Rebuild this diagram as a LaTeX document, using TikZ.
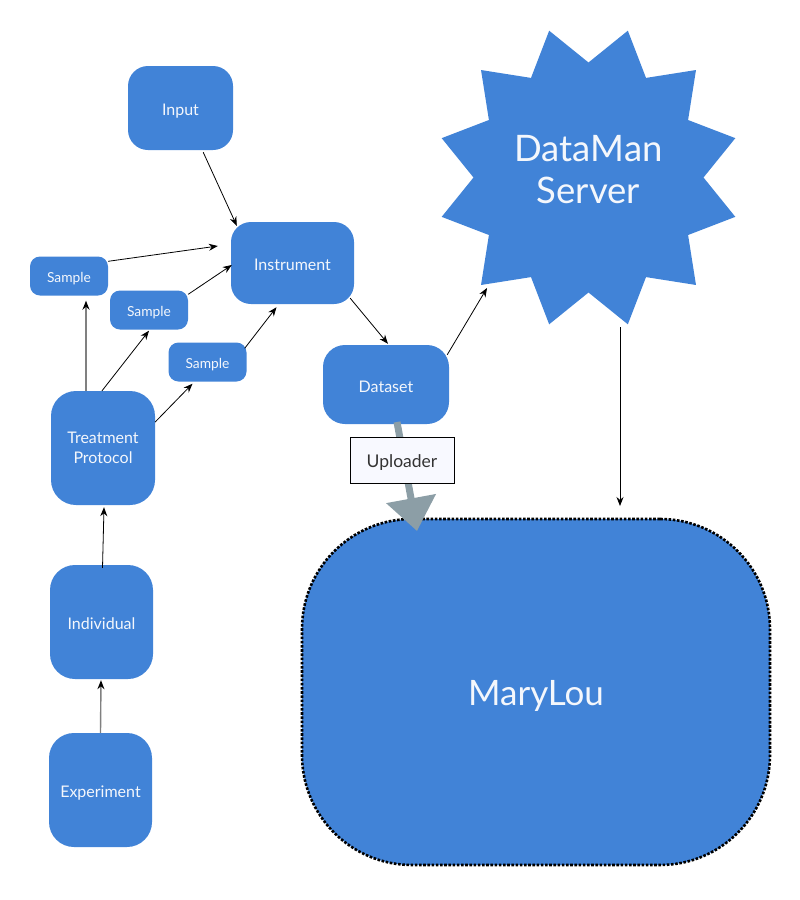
\documentclass[tikz,border=0pt]{standalone}
\usepackage{fontspec}
\setmainfont{Lato}
\usetikzlibrary{arrows.meta,calc}
\definecolor{mblue}{HTML}{4183D7}
\definecolor{upgray}{HTML}{8C9EA6}
\definecolor{upfill}{HTML}{F8F9FF}
\definecolor{txtdark}{HTML}{333333}
\definecolor{txtlight}{HTML}{F4F7FC}
\tikzset{
  box/.style={fill=mblue, text=txtlight, rounded corners=#1, inner sep=0pt, align=center, font=\fontsize{16}{20.5}\selectfont},
  box/.default=20pt,
  oneline/.style={text height=#1, text depth=0pt},
  oneline/.default=15pt,
  smallbox/.style={box=10pt, oneline=12.6pt, minimum width=78pt, minimum height=39pt, font=\fontsize{13.8}{16}\selectfont},
  conn/.style={-{Stealth[length=9pt,width=7pt]}, line width=0.8pt, black},
  gconn/.style={-{Stealth[length=9pt,width=7pt,color=black]}, line width=1.4pt, black!50},
}
\begin{document}
\begin{tikzpicture}[x=1pt,y=-1pt]
\useasboundingbox (0,0) rectangle (800,900);
% star
\fill[mblue, shift={(588.5,177.5)}] (15:152) \foreach \k in {1,...,12} { -- (\k*30:115) -- (\k*30+15:152) } -- cycle;
\node[text=txtlight, align=center, font=\fontsize{36.5}{42}\selectfont] (server) at (588.5,169.5) {DataMan\\Server};
\coordinate (srvLL) at (487,288);
\coordinate (srvB) at (620,327);
\coordinate (mlTop) at (620,506);
% boxes
\node[box, oneline=15.5pt, minimum width=105pt, minimum height=84pt] (input) at (180.5,108) {Input};
\node[box, oneline=14pt, minimum width=123pt, minimum height=82pt] (instr) at (292.5,263) {Instrument};
\node[smallbox] (s1) at (69,276) {Sample};
\node[smallbox] (s2) at (149,310) {Sample};
\node[smallbox] (s3) at (207.5,362) {Sample};
\node[box=25pt, minimum width=104pt, minimum height=114pt] (treat) at (103,448) {Treatment\\Protocol};
\node[box=25pt, oneline=14pt, minimum width=103pt, minimum height=114pt] (indiv) at (101.5,622) {Individual};
\node[box=25pt, oneline=15pt, minimum width=103pt, minimum height=114pt] (exper) at (100.5,790) {Experiment};
\node[box=22pt, oneline=15.5pt, minimum width=126pt, minimum height=79pt] (data) at (386,384.5) {Dataset};
\node[fill=mblue, draw=black, line width=2.6pt, dash pattern=on 2.6pt off 1.6pt, rounded corners=110pt, minimum width=468pt, minimum height=346pt, text=txtlight, oneline=26pt, font=\fontsize{35}{40}\selectfont] (mary) at (536,692) {MaryLou};
% upload arrow
\coordinate (upS) at (397,422);
\coordinate (upT) at (417,531);
\draw[upgray, line width=7pt, -{Triangle[length=33pt,width=49pt]}] (upS) -- (upT);
\node[draw=black, fill=upfill, line width=0.8pt, minimum width=104pt, minimum height=46pt, text=txtdark, oneline=14.6pt, font=\fontsize{17.5}{20}\selectfont] (upl) at (402,460) {Uploader};
% connectors
\draw[conn] (input.south east) ++(-30,2) coordinate (inS) -- ($(instr.north west)+(6,4)$);
\draw[conn] ($(s1.north east)+(0,5)$) -- ($(instr.west)+(-13,-17)$);
\draw[conn] (s2.north east) ++(0,4) -- ($(instr.west)+(1,2)$);
\draw[conn] ($(s3.north east)+(-2,6)$) -- ($(instr.south)+(-16,3)$);
\draw[conn] ($(instr.south east)+(-4,-6)$) -- ($(data.north)+(2,-1)$);
\draw[conn] ($(data.north east)+(-2,10)$) -- (srvLL);
\draw[conn] (srvB) -- (mlTop);
\draw[gconn] ($(treat.north)+(-17,0)$) -- ($(s1.south)+(17,5)$);
\draw[conn] ($(treat.north)+(-1,0)$) -- ($(s2.south)+(0,1)$);
\draw[conn] ($(treat.east)+(0,-26)$) -- ($(s3.south)+(-15,2)$);
\draw[conn] ($(indiv.north)+(1,3)$) -- ($(treat.south)+(1,2)$);
\draw[gconn] (exper.north) -- ($(indiv.south)+(-0.5,1)$);
\end{tikzpicture}
\end{document}
